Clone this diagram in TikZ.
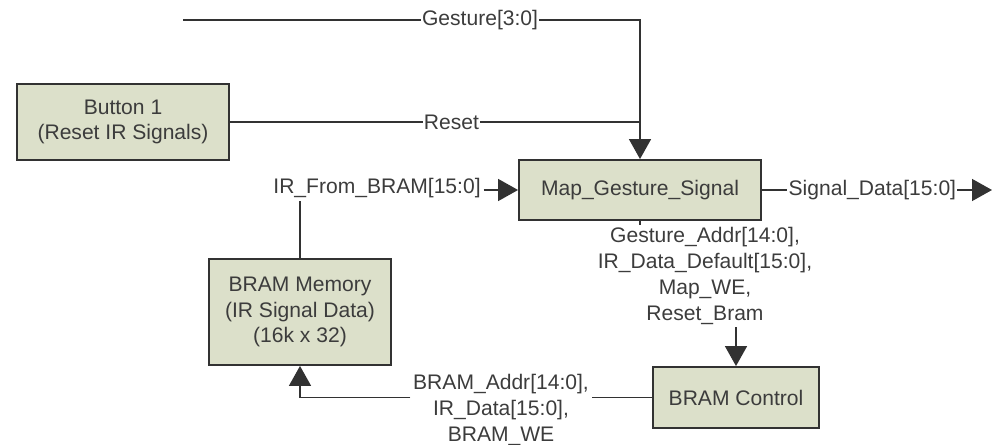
\documentclass[tikz,border=0pt]{standalone}
\usepackage{fontspec}
\setmainfont{Liberation Sans}
\usetikzlibrary{arrows.meta}
\definecolor{boxfill}{RGB}{220,224,202}
\definecolor{ink}{RGB}{50,50,50}
\definecolor{txt}{RGB}{60,60,60}
\begin{document}
\begin{tikzpicture}[x=0.75pt,y=-0.75pt,
  font=\fontsize{15.8pt}{19.3pt}\selectfont,
  every node/.style={text=txt},
  blk/.style={draw=ink,line width=1.4pt,fill=boxfill,align=center,inner sep=0pt},
  wire/.style={draw=ink,line width=1.1pt},
  arr/.style={wire,-{Triangle[length=15pt,width=16.5pt]}},
  lbl/.style={fill=white,inner sep=1pt,align=center},
  mlbl/.style={align=center,inner sep=2pt}]
\useasboundingbox (0,0) rectangle (994,445);
\node[blk,minimum width=159pt,minimum height=57pt] (btn) at (123,122) {Button 1\\(Reset IR Signals)};
\node[blk,minimum width=181.5pt,minimum height=45pt] (map) at (640,190) {Map\_Gesture\_Signal};
\node[blk,minimum width=136.5pt,minimum height=79.5pt] (bram) at (300,312) {BRAM Memory\\(IR Signal Data)\\(16k x 32)};
\node[blk,minimum width=124.5pt,minimum height=45.75pt] (bctl) at (736,397.5) {BRAM Control};
\coordinate (gstart) at (183,20);
\coordinate (sigend) at (992,190);
\node[mlbl] (irlbl) at (377,188) {IR\_From\_BRAM[15:0]};
\node[mlbl] (mlbl) at (705,276) {Gesture\_Addr[14:0],\\IR\_Data\_Default[15:0],\\Map\_WE,\\Reset\_Bram};
\node[mlbl] (blbl) at (501,410) {BRAM\_Addr[14:0],\\IR\_Data[15:0],\\BRAM\_WE};
% Gesture and reset into map
\draw[arr] (gstart) -- node[lbl,pos=0.65] {Gesture[3:0]} (gstart -| map.north) -- (map.north);
\draw[wire] (btn.east) -- node[lbl,pos=0.54] {Reset} (btn.east -| map.north);
% IR from BRAM
\draw[arr] (irlbl.east |- map.west) -- (map.west);
\draw[wire] (bram.north) -- (bram.north |- irlbl.south);
% Signal data out
\draw[arr] (map.east) -- node[lbl,pos=0.48] {Signal\_Data[15:0]} (sigend);
% Map to BRAM control
\draw[wire] (map.south) -- (map.south |- mlbl.north);
\draw[arr] (mlbl.south -| bctl.north) -- (bctl.north);
% BRAM control to BRAM memory
\draw[wire] (bctl.west) -- (bctl.west -| blbl.east);
\draw[arr] (bctl.west -| blbl.west) -| (bram.south);
\end{tikzpicture}
\end{document}
